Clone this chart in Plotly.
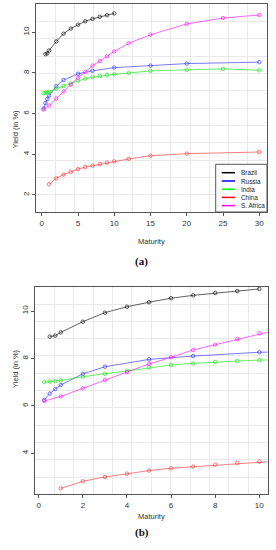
import plotly.graph_objects as go

# ---------------- data ----------------
series_names = ["Brazil", "Russia", "India", "China", "S. Africa"]

brazil_mat = [0.5, 0.75, 1, 2, 3, 4, 5, 6, 7, 8, 9, 10]
brazil_yld = [8.92, 8.96, 9.10, 9.55, 9.93, 10.18, 10.37, 10.54, 10.66, 10.76, 10.84, 10.93]

russia_mat = [0.25, 0.5, 0.75, 1, 2, 3, 5, 7, 10, 15, 20, 30]
russia_yld = [6.25, 6.52, 6.71, 6.88, 7.35, 7.65, 7.96, 8.10, 8.26, 8.36, 8.46, 8.53]

india_mat = [0.25, 0.5, 0.75, 1, 2, 3, 4, 5, 6, 7, 8, 9, 10, 12, 15, 20, 25, 30]
india_yld = [7.00, 7.02, 7.04, 7.07, 7.23, 7.35, 7.48, 7.62, 7.72, 7.79, 7.85, 7.89, 7.93,
             8.00, 8.10, 8.15, 8.20, 8.13]

china_mat = [1, 2, 3, 4, 5, 6, 7, 8, 9, 10, 12, 15, 20, 30]
china_yld = [2.52, 2.82, 3.00, 3.14, 3.27, 3.37, 3.44, 3.52, 3.59, 3.65, 3.77, 3.93, 4.03, 4.11]

safrica_mat = [0.25, 1, 2, 3, 4, 5, 6, 7, 8, 9, 10, 12, 15, 20, 25, 30]
safrica_yld = [6.20, 6.40, 6.74, 7.09, 7.42, 7.77, 8.05, 8.36, 8.58, 8.82, 9.06,
               9.46, 9.88, 10.41, 10.70, 10.85]

line_colors = ["rgba(0,0,0,0.62)", "rgba(40,40,255,0.62)", "rgba(0,230,0,0.6)",
               "rgba(255,40,40,0.6)", "rgba(255,0,255,0.6)"]
legend_colors = ["#000000", "#0000ff", "#00ff00", "#ff0000", "#ff00ff"]

top_xticks = [0, 5, 10, 15, 20, 25, 30]
top_yticks = [2, 4, 6, 8, 10]
bot_xticks = [0, 2, 4, 6, 8, 10]
bot_yticks = [4, 6, 8, 10]

mats = [brazil_mat, russia_mat, india_mat, china_mat, safrica_mat]
ylds = [brazil_yld, russia_yld, india_yld, china_yld, safrica_yld]

# ---------------- figure ----------------
W, H = 276, 550
FONT = "Liberation Sans, Arial, sans-serif"

def px_x(p):
    return p / W

def px_y(p):
    return 1 - p / H

fig = go.Figure()
for xa, ya in [("x", "y"), ("x2", "y2")]:
    for name, m, v, c in zip(series_names, mats, ylds, line_colors):
        fig.add_trace(go.Scatter(
            x=m, y=v, name=name, mode="lines+markers",
            line=dict(color=c, width=1),
            marker=dict(symbol="circle-open", size=3.5, color=c, line=dict(width=1, color=c)),
            xaxis=xa, yaxis=ya, showlegend=False, hoverinfo="x+y+name"))

top_xr = [-0.8, 31.07]
top_yr = [1.16, 11.39]
bot_xr = [-0.17, 10.38]
bot_yr = [2.27, 11.025]

def axis(dom, rng, ticks, anchor, angle=0, n=12):
    d = (rng[1] - rng[0]) / n
    return dict(
        domain=dom, range=rng, anchor=anchor, tickmode="array", tickvals=ticks,
        ticktext=[str(t) for t in ticks], showgrid=False, zeroline=False,
        showline=True, mirror=True, linecolor="#555555", linewidth=1,
        ticks="outside", ticklen=3, tickcolor="#555555", tickwidth=1,
        tickangle=angle, tickfont=dict(family=FONT, size=8, color="#333333"),
        automargin=False,
        minor=dict(tickmode="linear", tick0=rng[0] + d * 0.999999, dtick=d,
                   showgrid=True, gridcolor="#e9e9e9", gridwidth=1, ticks=""),
    )

fig.update_layout(
    width=W, height=H, margin=dict(l=0, r=0, t=0, b=0),
    paper_bgcolor="white", plot_bgcolor="white", showlegend=False,
    xaxis=axis([px_x(36), px_x(267)], top_xr, top_xticks, "y"),
    yaxis=axis([px_y(212), px_y(4)], top_yr, top_yticks, "x", angle=-90),
    xaxis2=axis([px_x(35), px_x(267.7)], bot_xr, bot_xticks, "y2"),
    yaxis2=axis([px_y(494.3), px_y(286.7)], bot_yr, bot_yticks, "x2", angle=-90),
)

ann = []
tfont = dict(family=FONT, size=7.5, color="#333333")
# axis titles
ann.append(dict(text="Maturity", x=px_x(151.5), y=px_y(241.7), xref="paper", yref="paper",
                showarrow=False, font=tfont))
ann.append(dict(text="Maturity", x=px_x(151.5), y=px_y(523.3), xref="paper", yref="paper",
                showarrow=False, font=tfont))
ann.append(dict(text="Yield (in %)", x=px_x(8.5), y=px_y(108), xref="paper", yref="paper",
                showarrow=False, textangle=-90, font=tfont))
ann.append(dict(text="Yield (in %)", x=px_x(8.5), y=px_y(390.5), xref="paper", yref="paper",
                showarrow=False, textangle=-90, font=tfont))
# captions
cfont = dict(family="Liberation Serif, DejaVu Serif, serif", size=11, color="#111111")
ann.append(dict(text="<b>(a)</b>", x=px_x(141.7), y=px_y(261), xref="paper", yref="paper",
                showarrow=False, font=cfont))
ann.append(dict(text="<b>(b)</b>", x=px_x(141.7), y=px_y(540.7), xref="paper", yref="paper",
                showarrow=False, font=cfont))

# manual compact legend (R style) in the top panel
shapes = [dict(type="rect", xref="paper", yref="paper",
               x0=px_x(215.7), x1=px_x(267), y0=px_y(212), y1=px_y(164.3),
               line=dict(color="#555555", width=1), fillcolor="white", layer="above")]
row_y = [172.7, 181.0, 189.2, 197.4, 205.6]
for name, col, ry in zip(series_names, legend_colors, row_y):
    shapes.append(dict(type="line", xref="paper", yref="paper",
                       x0=px_x(221.7), x1=px_x(235), y0=px_y(ry), y1=px_y(ry),
                       line=dict(color=col, width=1.5), layer="above"))
    ann.append(dict(text=name, x=px_x(239), y=px_y(ry), xref="paper", yref="paper",
                    xanchor="left", yanchor="middle", showarrow=False,
                    font=dict(family=FONT, size=6.4, color="#222222")))

fig.update_layout(annotations=ann, shapes=shapes)
fig.write_html("out.html",
               config={"displayModeBar": False},
               post_script="document.body.style.margin='0';"
                           "document.body.style.overflow='hidden';")
